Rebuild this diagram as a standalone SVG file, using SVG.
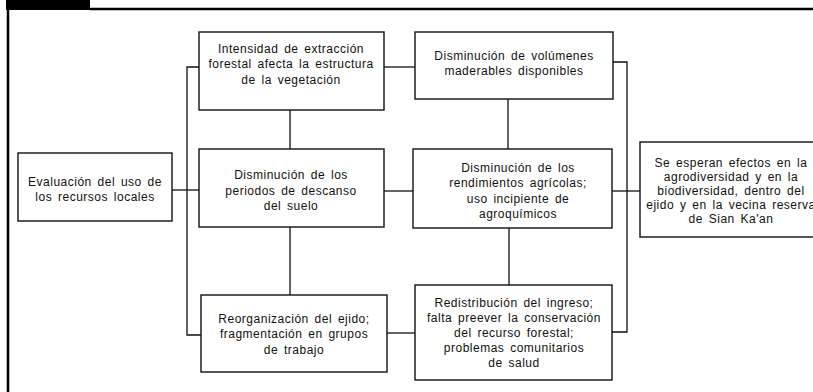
<svg xmlns="http://www.w3.org/2000/svg" width="813" height="392" viewBox="0 0 813 392">
<style>
.box{fill:#fff;stroke:#111;stroke-width:1.4}
.t{font-family:"Liberation Sans",Arial,sans-serif;font-size:12px;fill:#111;text-anchor:middle;letter-spacing:0.5px;word-spacing:2px}
.c{fill:none;stroke:#111;stroke-width:1.3}
</style>
<rect x="0" y="0" width="813" height="392" fill="#fff"/>
<g id="frame">
<rect x="6" y="0" width="84" height="10" fill="#000"/>
<line x1="90" y1="9" x2="813" y2="9" stroke="#000" stroke-width="2.5"/>
<line x1="8" y1="10" x2="8" y2="392" stroke="#000" stroke-width="2.5"/>
</g>
<g id="connectors">
<polyline class="c" points="199,67 187,67 187,335 201,335"/>
<line class="c" x1="172" y1="190" x2="199" y2="190"/>
<line class="c" x1="290" y1="110" x2="290" y2="149"/>
<line class="c" x1="290" y1="227" x2="290" y2="295"/>
<line class="c" x1="384" y1="67" x2="415" y2="67"/>
<line class="c" x1="384" y1="191" x2="413" y2="191"/>
<line class="c" x1="387" y1="333" x2="415" y2="333"/>
<line class="c" x1="508" y1="99" x2="508" y2="149"/>
<line class="c" x1="509" y1="228" x2="509" y2="285"/>
<polyline class="c" points="613,62 627,62 627,332 612,332"/>
<line class="c" x1="612" y1="191" x2="640" y2="191"/>
</g>
<g id="n1">
<rect class="box" x="18" y="153" width="154" height="68"/>
<text class="t" x="95" y="186">Evaluación del uso de</text>
<text class="t" x="95" y="201">los recursos locales</text>
</g>
<g id="n2">
<rect class="box" x="199" y="32" width="185" height="78"/>
<text class="t" x="291" y="53">Intensidad de extracción</text>
<text class="t" x="291" y="68">forestal afecta la estructura</text>
<text class="t" x="291" y="84">de la vegetación</text>
</g>
<g id="n3">
<rect class="box" x="415" y="32" width="198" height="67"/>
<text class="t" x="514" y="60">Disminución de volúmenes</text>
<text class="t" x="514" y="75">maderables disponibles</text>
</g>
<g id="n4">
<rect class="box" x="199" y="149" width="185" height="78"/>
<text class="t" x="291" y="179">Disminución de los</text>
<text class="t" x="291" y="195">periodos de descanso</text>
<text class="t" x="291" y="210">del suelo</text>
</g>
<g id="n5">
<rect class="box" x="413" y="149" width="199" height="79"/>
<text class="t" x="518" y="172">Disminución de los</text>
<text class="t" x="518" y="187">rendimientos agrícolas;</text>
<text class="t" x="518" y="203">uso incipiente de</text>
<text class="t" x="518" y="218">agroquímicos</text>
</g>
<g id="n6">
<rect class="box" x="640" y="142" width="190" height="95"/>
<text class="t" x="731" y="167">Se esperan efectos en la</text>
<text class="t" x="731" y="181">agrodiversidad y en la</text>
<text class="t" x="731" y="195">biodiversidad, dentro del</text>
<text class="t" x="731" y="209">ejido y en la vecina reserva</text>
<text class="t" x="731" y="223">de Sian Ka'an</text>
</g>
<g id="n7">
<rect class="box" x="201" y="295" width="186" height="77"/>
<text class="t" x="294" y="323">Reorganización del ejido;</text>
<text class="t" x="294" y="338">fragmentación en grupos</text>
<text class="t" x="294" y="354">de trabajo</text>
</g>
<g id="n8">
<rect class="box" x="415" y="285" width="197" height="95"/>
<text class="t" x="514" y="307">Redistribución del ingreso;</text>
<text class="t" x="514" y="322">falta preever la conservación</text>
<text class="t" x="514" y="337">del recurso forestal;</text>
<text class="t" x="514" y="352">problemas comunitarios</text>
<text class="t" x="514" y="367">de salud</text>
</g>
</svg>
